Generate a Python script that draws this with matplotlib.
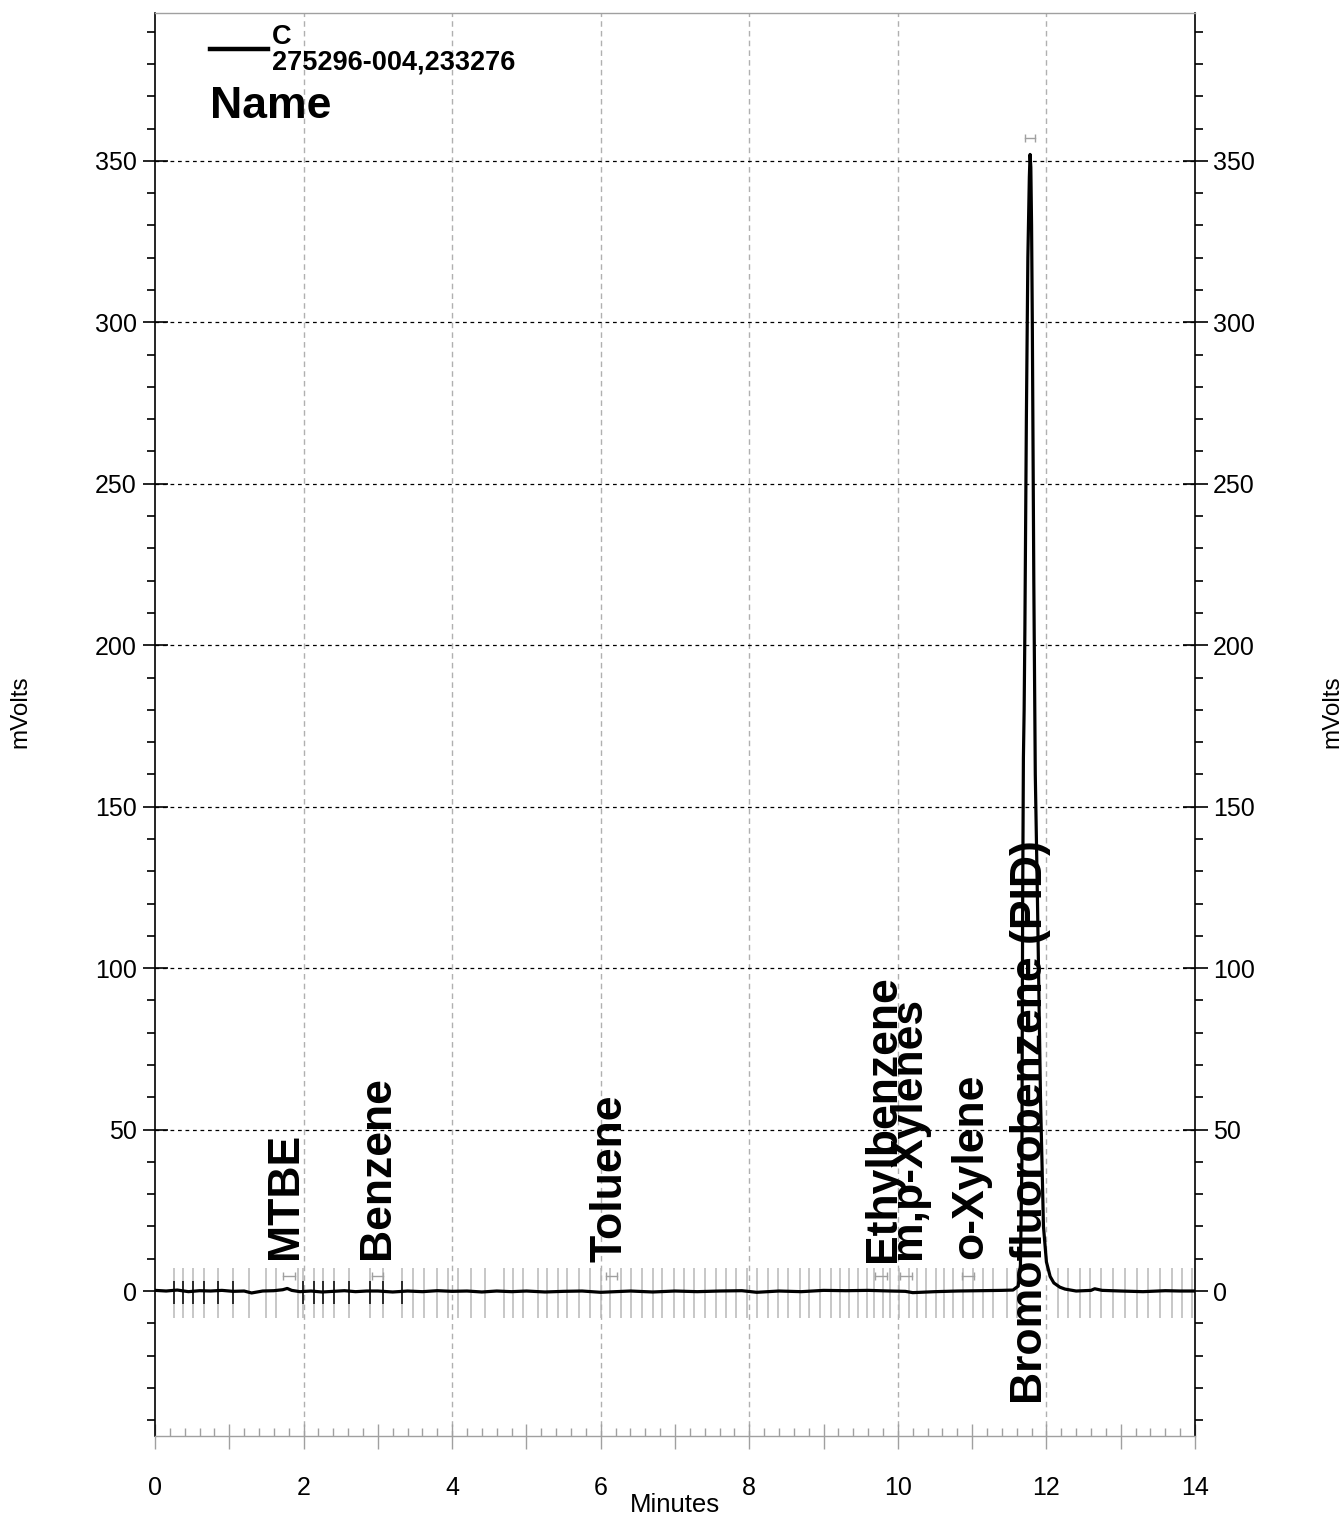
import numpy as np
import matplotlib.pyplot as plt
from matplotlib.lines import Line2D
from matplotlib.ticker import MultipleLocator, FixedLocator

plt.rcParams['font.family'] = ['Liberation Sans', 'DejaVu Sans']

# ---------------------------------------------------------------------------
# Data
# ---------------------------------------------------------------------------
trace_t = [0.00, 0.15, 0.30, 0.45, 0.60, 0.75, 0.90, 1.05, 1.20, 1.30, 1.45,
           1.60, 1.72, 1.78, 1.84, 1.95, 2.10, 2.25, 2.40, 2.55, 2.70, 2.85,
           3.00, 3.20, 3.40, 3.60, 3.80, 4.00, 4.20, 4.40, 4.60, 4.80, 5.00,
           5.25, 5.50, 5.75, 6.00, 6.20, 6.40, 6.70, 7.00, 7.30, 7.60, 7.90,
           8.10, 8.40, 8.70, 9.00, 9.30, 9.60, 9.90, 10.10, 10.20, 10.50,
           10.80, 11.10, 11.40, 11.55, 11.62, 11.65, 11.67, 11.68, 11.69,
           11.70, 11.71, 11.73, 11.75, 11.77, 11.78, 11.79, 11.80, 11.81,
           11.82, 11.83, 11.85, 11.88, 11.92, 11.96, 12.00, 12.05, 12.10,
           12.18, 12.25, 12.40, 12.60, 12.65, 12.75, 13.00, 13.30, 13.60,
           13.80, 14.00]
trace_mv = [0.2, 0.0, 0.3, -0.2, 0.1, 0.0, 0.2, -0.1, 0.0, -0.6, 0.0,
            0.1, 0.4, 0.8, 0.2, -0.2, 0.0, -0.3, -0.1, 0.1, -0.2, 0.0,
            0.0, -0.3, 0.0, -0.2, 0.1, -0.1, 0.0, -0.3, 0.0, -0.2, 0.0,
            -0.3, -0.1, 0.0, -0.4, -0.2, 0.0, -0.3, 0.0, -0.2, 0.0, 0.1,
            -0.4, 0.0, -0.2, 0.2, 0.1, 0.2, 0.0, -0.1, -0.5, -0.2,
            0.0, 0.1, 0.2, 0.3, 1.5, 8.0, 40.0, 120.0, 165.0,
            180.0, 205.0, 270.0, 320.0, 345.0, 352.0, 348.0, 330.0, 300.0,
            260.0, 220.0, 160.0, 120.0, 60.0, 20.0, 9.0, 4.5, 2.5,
            1.2, 0.6, 0.0, 0.2, 0.7, 0.2, 0.0, -0.2, 0.1,
            0.0, 0.0]

# peak-detection marks along the baseline (minutes)
mark_t = [0.26, 0.38, 0.51, 0.66, 0.85, 1.05, 1.27, 1.49, 1.63, 1.92, 1.99,
          2.14, 2.26, 2.41, 2.61, 2.89, 3.07, 3.32, 3.47, 3.62, 3.80, 3.94,
          4.08, 4.25, 4.44, 4.70, 4.82, 4.95, 5.16, 5.28, 5.42, 5.55, 5.71,
          5.85, 6.00, 6.12, 6.27, 6.41, 6.55, 6.70, 6.83, 6.98, 7.12, 7.26,
          7.40, 7.55, 7.68, 7.82, 7.97, 8.11, 8.25, 8.39, 8.52, 8.68, 8.81,
          8.95, 9.10, 9.22, 9.34, 9.46, 9.58, 9.68, 9.80, 9.89, 10.01,
          10.15, 10.26, 10.38, 10.51, 10.62, 10.74, 10.88, 11.01, 11.15,
          11.28, 11.47, 11.60, 12.15, 12.29, 12.45, 12.59, 12.73, 12.90,
          13.06, 13.22, 13.37, 13.53, 13.69, 13.82, 13.96]
black_mark_t = [0.26, 0.38, 0.51, 0.66, 0.85, 1.05, 1.99, 2.14, 2.26, 2.41,
                2.61, 2.89, 3.07, 3.32]

# compound labels: name, label x (min), label bottom (mV)
peak_names = ["MTBE", "Benzene", "Toluene", "Ethylbenzene", "m,p-Xylenes",
              "o-Xylene", "Bromofluorobenzene (PID)"]
peak_label_t = [1.76, 2.99, 6.12, 9.81, 10.14, 10.98, 11.79]
peak_label_y = [10.0, 10.0, 9.0, 9.0, 10.0, 10.0, -35.0]

# retention windows: start, end, height (mV)
win_start = [1.72, 2.92, 6.07, 9.69, 10.03, 10.86, 11.71]
win_end = [1.88, 3.07, 6.22, 9.85, 10.19, 11.02, 11.85]
win_y = [4.6, 4.6, 4.6, 4.6, 4.6, 4.6, 357.0]

# ---------------------------------------------------------------------------
# Plot
# ---------------------------------------------------------------------------
fig = plt.figure(figsize=(13.44, 15.2), dpi=100)
ax = fig.add_axes([155 / 1344, 84 / 1520, 1040 / 1344, 1423 / 1520])

ax.set_xlim(0, 14)
ax.set_ylim(-44.9, 395.8)

# grid
for gx in [2, 4, 6, 8, 10, 12]:
    ax.axvline(gx, color="#b0b0b0", lw=1, ls=(0, (4, 3)), zorder=0)
for gy in [50, 100, 150, 200, 250, 300, 350]:
    ax.axhline(gy, color="black", lw=0.9, ls=(0, (3, 3)), zorder=0)

# baseline marks
ax.vlines(mark_t, -8.5, 7.0, color="#b8b8b8", lw=1.1, zorder=1)
ax.vlines(black_mark_t, -4.0, 3.0, color="black", lw=1.1, zorder=2)

# retention windows
for s, e, y in zip(win_start, win_end, win_y):
    ax.plot([s, e], [y, y], color="#a0a0a0", lw=1, zorder=2)
    ax.vlines([s, e], y - 1.3, y + 1.3, color="#a0a0a0", lw=1, zorder=2)

# trace
ax.plot(trace_t, trace_mv, color="black", lw=2.3, zorder=3)

# compound labels
for name, t, y in zip(peak_names, peak_label_t, peak_label_y):
    ax.text(t, y, name, rotation=90, ha="center", va="bottom",
            fontsize=32, fontweight="bold", zorder=4)

# axes styling
for side in ["left", "right"]:
    ax.spines[side].set_color("black")
    ax.spines[side].set_linewidth(1.2)
for side in ["top", "bottom"]:
    ax.spines[side].set_color("#a0a0a0")
    ax.spines[side].set_linewidth(1.0)

ax.yaxis.set_major_locator(FixedLocator([0, 50, 100, 150, 200, 250, 300, 350]))
ax.yaxis.set_minor_locator(MultipleLocator(10))
ax.tick_params(axis="y", which="major", direction="inout", length=18, width=1.2,
               labelsize=18, left=True, right=True, labelleft=True,
               labelright=True, pad=4)
ax.tick_params(axis="y", which="minor", direction="out", length=6, width=1.2,
               left=True, right=True)

ax.xaxis.set_major_locator(MultipleLocator(1))
ax.xaxis.set_minor_locator(MultipleLocator(0.2))
ax.set_xticks(range(15))
ax.set_xticklabels([str(i) if i % 2 == 0 else "" for i in range(15)])
ax.tick_params(axis="x", which="major", direction="inout", length=18,
               color="#a0a0a0", width=1, labelsize=18, pad=20)
ax.tick_params(axis="x", which="minor", direction="in", length=6,
               color="#a0a0a0", width=1)

fig.text(675 / 1344, 1 - 1505 / 1520, "Minutes", ha="center", va="center",
         fontsize=18.5)
fig.text(20 / 1344, 1 - 712 / 1520, "mVolts", rotation=90, ha="center",
         va="center", fontsize=17.5)
fig.text(1332 / 1344, 1 - 712 / 1520, "mVolts", rotation=90, ha="center",
         va="center", fontsize=17.5)

# legend block
fig.add_artist(Line2D([210 / 1344, 268 / 1344], [1 - 49 / 1520, 1 - 49 / 1520],
                      color="black", lw=3.2))
fig.text(272 / 1344, 1 - 24 / 1520, "C\n275296-004,233276", ha="left",
         va="top", fontsize=19.5, fontweight="bold", linespacing=1.0)
fig.text(210 / 1344, 1 - 86 / 1520, "Name", ha="left", va="top",
         fontsize=32, fontweight="bold")

fig.savefig("out.png", dpi=100)
